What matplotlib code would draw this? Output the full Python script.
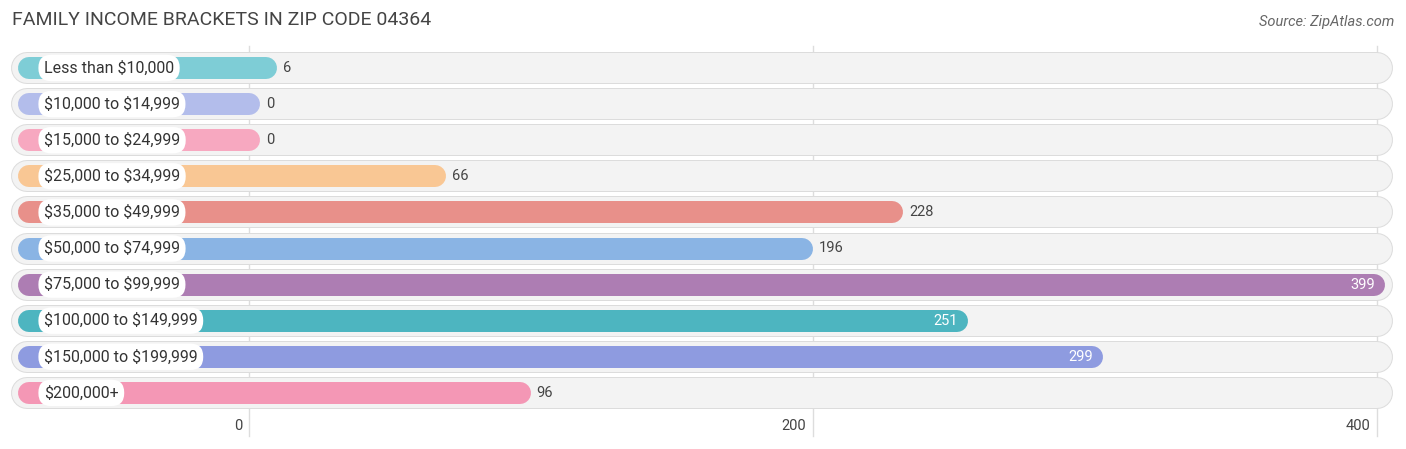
import matplotlib
matplotlib.use("Agg")
import matplotlib.pyplot as plt
plt.rcParams["text.parse_math"] = False

categories = ["Less than $10,000", "$10,000 to $14,999", "$15,000 to $24,999", "$25,000 to $34,999",
              "$35,000 to $49,999", "$50,000 to $74,999", "$75,000 to $99,999", "$100,000 to $149,999",
              "$150,000 to $199,999", "$200,000+"]
values = [6, 0, 0, 66, 228, 196, 399, 251, 299, 96]
colors = ["#7ECDD6", "#B3BDEB", "#F7A8C0", "#F9C794", "#E8908A", "#8AB4E4", "#AD7DB3", "#4DB5C0", "#8E9BE0", "#F497B5"]
ticks = [0, 200, 400]

W, H = 1406, 449
fig = plt.figure(figsize=(W/100, H/100), dpi=100)
ax = fig.add_axes([0, 0, 1, 1])
scale = 2.82
x0 = 249
def px(p):
    return (p - x0) / scale
ax.set_xlim(px(0), px(W))
ax.set_ylim(H, 0)
ax.axis("off")
pt = 72 / 100

for t in ticks:
    ax.plot([t, t], [46, 436], color="#DDDDDD", lw=1, zorder=0)
    ax.text(t - 2.5, 426, str(t), ha="right", va="center", fontsize=10.5, color="#444444", family="Roboto")

for i, (c, v, col) in enumerate(zip(categories, values, colors)):
    y = 68 + i * 36.1
    ax.plot([px(27), px(1377)], [y, y], color="#DCDCDC", lw=32*pt, solid_capstyle="round", zorder=1)
    ax.plot([px(27), px(1377)], [y, y], color="#F3F3F3", lw=30*pt, solid_capstyle="round", zorder=2)
    end = 260 + v * scale
    ax.plot([px(29), px(end - 11)], [y, y], color=col, lw=22*pt, solid_capstyle="round", zorder=3)
    ax.text(px(44), y, c, ha="left", va="center", fontsize=11.5, color="#333333", family="Roboto", zorder=5,
            bbox=dict(boxstyle="round,pad=0.35,rounding_size=0.8", fc="white", ec="none"))
    if v > 240:
        ax.text(px(end - 10), y, str(v), ha="right", va="center", fontsize=10.5, color="white", family="Roboto", zorder=6)
    else:
        ax.text(px(end + 6), y, str(v), ha="left", va="center", fontsize=10.5, color="#444444", family="Roboto", zorder=6)

ax.text(px(12), 20, "FAMILY INCOME BRACKETS IN ZIP CODE 04364", ha="left", va="center", fontsize=14, color="#444444", family="Roboto")
ax.text(px(1394), 22, "Source: ZipAtlas.com", ha="right", va="center", fontsize=10.5, color="#666666", style="italic", family="Roboto")

fig.savefig("out.png", dpi=100)
